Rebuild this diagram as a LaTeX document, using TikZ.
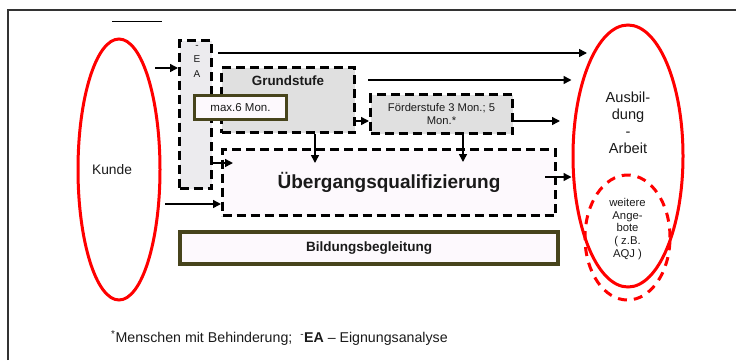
\documentclass[tikz,border=0pt]{standalone}
\usepackage{fontspec}
\setmainfont{Liberation Sans}
\usetikzlibrary{arrows.meta,shapes.geometric}
\definecolor{olivebd}{HTML}{47441C}
\definecolor{txt}{HTML}{1A1A1A}
\definecolor{grayfill}{HTML}{E0E0E0}
\definecolor{eafill}{HTML}{ECEBEE}
\definecolor{lavfill}{HTML}{FDF9FD}
\definecolor{redline}{HTML}{FF0000}
\tikzset{
  dbox/.style={draw=black, line width=3pt, dash pattern=on 9pt off 5pt, inner sep=0pt},
  sbox/.style={draw=olivebd, inner sep=0pt, fill=lavfill},
  arr/.style={line width=1.5pt, -{Triangle[length=8pt,width=8pt]}},
  redell/.style={ellipse, draw=redline, line width=3pt, inner sep=0pt},
  lbl/.style={text=txt, inner sep=0pt, align=center},
}
\begin{document}
\begin{tikzpicture}[x=1pt,y=-1pt]
\useasboundingbox (0,0) rectangle (736,360);
% frame
\draw[line width=1.5pt, black!80] (8,360) -- (8,10) -- (736,10);
\draw[line width=1pt] (112,21) -- (162,21);

% ellipses
\node[redell, minimum width=82, minimum height=261] (kunde) at (119,169.5) {};
\node[lbl, font=\fontsize{13.8}{16}\selectfont] (kundelbl) at (112,170) {Kunde};
\node[redell, minimum width=110, minimum height=262] (ausb) at (628,156) {};
\node[lbl, font=\fontsize{14.6}{17}\selectfont] (ausblbl) at (628,122.5) {Ausbil-\\dung\\-\\Arbeit};
\node[redell, dash pattern=on 9pt off 7pt, minimum width=85, minimum height=125] (weitere) at (627.5,237.5) {};
\node[lbl, font=\fontsize{11.3}{12.8}\selectfont] (weiterelbl) at (627.5,229) {weitere\\Ange-\\bote\\( z.B.\\AQJ )};

% boxes
\node[dbox, fill=eafill, minimum width=32, minimum height=148] (ea) at (195.5,114.5) {};
\node[lbl, font=\fontsize{10}{14.5}\selectfont] (ealbl) at (197,61) {-\\E\\A};
\node[dbox, fill=grayfill, minimum width=133, minimum height=65] (grund) at (288,100) {};
\node[lbl, font=\bfseries\fontsize{13.4}{15}\selectfont] (grundlbl) at (288,81) {Grundstufe};
\node[sbox, line width=3pt, minimum width=92, minimum height=24, font=\fontsize{11.5}{13}\selectfont, text=txt] (max) at (240.5,107.5) {max.6 Mon.};
\node[dbox, fill=grayfill, minimum width=142, minimum height=39, font=\fontsize{11.2}{13}\selectfont, text=txt, align=center] (foerder) at (441.5,114) {Förderstufe 3 Mon.; 5\\Mon.*};
\node[dbox, fill=lavfill, minimum width=333, minimum height=66, font=\bfseries\fontsize{19}{22}\selectfont, text=txt] (ueber) at (389,182.5) {Übergangsqualifizierung};
\node[sbox, line width=4pt, minimum width=378, minimum height=32, font=\bfseries\fontsize{13.5}{16}\selectfont, text=txt] (bild) at (369,248) {Bildungsbegleitung};

% coordinates for free ends
\coordinate (k1) at (155,68);
\coordinate (k2) at (165,204);
\coordinate (g1) at (368,80);
\coordinate (t1) at (587,53);
\coordinate (f1) at (560,121);
\coordinate (e1) at (233,163);
\coordinate (u1) at (545,177);

% arrows
\draw[arr] (k1) -- (ea.west |- k1);
\draw[arr] ([xshift=5pt]ea.east |- t1) -- (t1);
\draw[arr] (g1) -- (g1 -| ausb.west);
\draw[arr] (grund.east |- f1) -- (foerder.west |- f1);
\draw[arr] (foerder.east |- f1) -- (f1);
\draw[arr] (grund.south -| 315,0) -- ([yshift=-15pt]ueber.north -| 315,0);
\draw[arr] (foerder.south -| 463,0) -- ([yshift=-14pt]ueber.north -| 463,0);
\draw[arr] (ea.east |- e1) -- (e1);
\draw[arr] (k2) -- (ueber.west |- k2);
\draw[arr] (u1) -- (ausb.west |- u1);

% footnote
\node[anchor=west, text=txt, inner sep=0pt, font=\fontsize{14.2}{16}\selectfont] (foot) at (111,338) {\textsuperscript{*}Menschen mit Behinderung;\ \ \textsuperscript{-}\textbf{EA} – Eignungsanalyse};
\end{tikzpicture}
\end{document}
